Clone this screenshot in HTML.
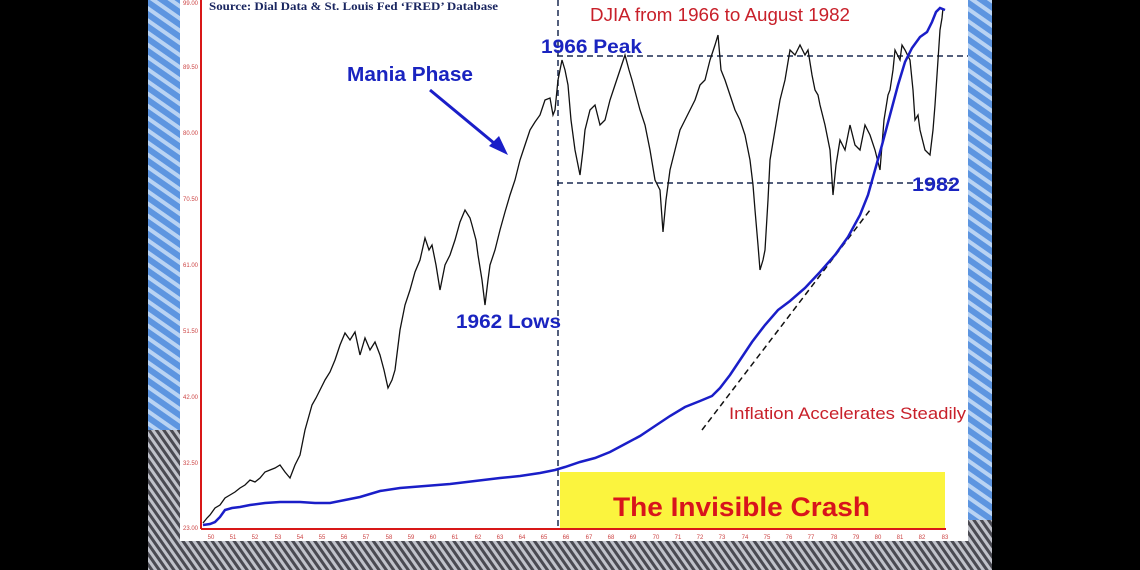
<!DOCTYPE html>
<html><head><meta charset="utf-8"><style>
html,body{margin:0;padding:0;width:1140px;height:570px;overflow:hidden;background:#000}
svg{display:block}
</style></head><body>
<svg width="1140" height="570" viewBox="0 0 1140 570" xmlns="http://www.w3.org/2000/svg">
<defs>
<pattern id="bl" width="10" height="10" patternUnits="userSpaceOnUse" patternTransform="rotate(35)">
<rect width="10" height="10" fill="#5d95e0"/><rect width="10" height="4" fill="#b9d3f3"/>
</pattern>
<pattern id="gr" width="6" height="6" patternUnits="userSpaceOnUse" patternTransform="rotate(55)">
<rect width="6" height="6" fill="#4a4a52"/><rect width="6" height="3" fill="#c0c2ca"/>
</pattern>
</defs>
<rect x="148" y="0" width="844" height="570" fill="url(#gr)"/>
<rect x="148" y="0" width="32" height="430" fill="url(#bl)"/>
<rect x="966" y="0" width="26" height="520" fill="url(#bl)"/>
<rect x="180" y="0" width="788" height="541" fill="#fff"/>
<rect x="560" y="472" width="385" height="56" fill="#fbf43e"/>
<text x="613" y="516" textLength="257" lengthAdjust="spacingAndGlyphs" font-family="Liberation Sans,sans-serif" font-weight="bold" font-size="27" fill="#d8141c">The Invisible Crash</text>
<line x1="201" y1="0" x2="201" y2="529" stroke="#d81818" stroke-width="2"/>
<line x1="201" y1="529" x2="946" y2="529" stroke="#d81818" stroke-width="2"/>
<g font-family="Liberation Sans,sans-serif" font-size="6" fill="#c44" text-anchor="end">
<text x="198" y="5">99.00</text><text x="198" y="69">89.50</text><text x="198" y="135">80.00</text><text x="198" y="201">70.50</text><text x="198" y="267">61.00</text><text x="198" y="333">51.50</text><text x="198" y="399">42.00</text><text x="198" y="465">32.50</text><text x="198" y="530">23.00</text>
</g>
<g font-family="Liberation Sans,sans-serif" font-size="6" fill="#c44" text-anchor="middle">
<text x="211" y="539">50</text><text x="233" y="539">51</text><text x="255" y="539">52</text><text x="278" y="539">53</text><text x="300" y="539">54</text><text x="322" y="539">55</text><text x="344" y="539">56</text><text x="366" y="539">57</text><text x="389" y="539">58</text><text x="411" y="539">59</text><text x="433" y="539">60</text><text x="455" y="539">61</text><text x="478" y="539">62</text><text x="500" y="539">63</text><text x="522" y="539">64</text><text x="544" y="539">65</text><text x="566" y="539">66</text><text x="589" y="539">67</text><text x="611" y="539">68</text><text x="633" y="539">69</text><text x="656" y="539">70</text><text x="678" y="539">71</text><text x="700" y="539">72</text><text x="722" y="539">73</text><text x="745" y="539">74</text><text x="767" y="539">75</text><text x="789" y="539">76</text><text x="811" y="539">77</text><text x="834" y="539">78</text><text x="856" y="539">79</text><text x="878" y="539">80</text><text x="900" y="539">81</text><text x="922" y="539">82</text><text x="945" y="539">83</text>
</g>
<g stroke="#1a2a50" stroke-width="1.5" stroke-dasharray="6,4" fill="none">
<line x1="558" y1="0" x2="558" y2="526"/>
<line x1="557" y1="56" x2="968" y2="56"/>
<line x1="557" y1="183" x2="958" y2="183"/>
<line x1="702" y1="430" x2="870" y2="210" stroke="#111"/>
</g>
<polyline fill="none" stroke="#111" stroke-width="1.3" points="203,523 207,518 210,515 215,508 220,505 225,498 230,495 235,492 240,488 245,485 250,480 255,482 260,478 265,472 270,470 275,468 280,465 285,472 290,478 295,465 300,455 305,430 312,405 316,398 320,390 325,380 330,372 335,360 340,345 345,333 350,340 355,332 360,355 365,338 370,350 375,342 380,355 384,370 388,388 392,380 395,370 400,330 405,305 410,290 415,272 420,260 425,238 429,250 432,245 436,265 440,290 445,265 450,255 455,240 460,222 465,210 470,218 472,225 476,240 478,255 482,280 485,305 488,280 490,265 495,250 500,230 505,212 510,195 515,180 520,160 525,145 530,130 535,122 540,115 545,100 550,98 553,115 555,110 558,80 562,60 565,70 568,85 571,120 575,150 578,165 580,175 583,150 585,130 590,110 595,105 600,125 605,120 610,100 615,85 620,70 625,55 629,70 632,80 636,95 640,110 645,125 650,150 655,180 660,190 663,232 666,200 670,170 675,150 680,130 685,120 690,110 695,100 700,85 705,80 710,60 715,45 718,35 721,70 725,80 730,95 735,110 740,120 745,135 750,160 753,185 755,210 758,245 760,270 763,260 765,250 768,200 770,160 775,130 780,100 785,80 790,50 795,55 800,45 805,55 808,50 812,75 815,90 818,95 820,105 825,125 830,150 833,195 836,165 840,140 845,150 850,125 855,145 860,150 865,125 870,135 875,150 880,170 884,120 888,95 890,90 893,70 895,50 900,60 902,45 905,50 910,60 913,90 915,120 918,115 920,130 925,150 930,155 933,130 935,105 938,60 940,30 942,18 943,8"/>
<polyline fill="none" stroke="#1a1ec8" stroke-width="2.5" points="203,525 210,524 215,522 220,517 225,510 232,508 240,507 250,505 265,503 280,502 300,502 315,503 330,503 345,500 360,497 380,491 400,488 425,486 450,484 475,481 500,478 520,476 540,473 555,470 565,467 580,462 595,458 610,452 625,444 640,436 655,426 670,416 685,407 700,401 712,396 720,388 730,375 740,360 752,342 765,325 778,310 790,301 805,288 820,272 835,255 848,237 860,215 868,195 875,170 882,145 890,115 898,85 905,62 912,48 920,37 927,32 932,22 936,12 940,8 945,10"/>
<line x1="430" y1="90" x2="500" y2="148" stroke="#1a1ec8" stroke-width="3"/>
<polygon points="508,155 489,146 499,136" fill="#1a1ec8"/>
<text x="209" y="10" textLength="289" lengthAdjust="spacingAndGlyphs" font-family="Liberation Serif,serif" font-weight="bold" font-size="12" fill="#1a2660">Source: Dial Data &amp; St. Louis Fed ‘FRED’ Database</text>
<text x="590" y="21" textLength="260" lengthAdjust="spacingAndGlyphs" font-family="Liberation Sans,sans-serif" font-size="18" fill="#c8202a">DJIA from 1966 to August 1982</text>
<g font-family="Liberation Sans,sans-serif" font-weight="bold" fill="#1a24c0" lengthAdjust="spacingAndGlyphs">
<text x="347" y="81" font-size="20" textLength="126" lengthAdjust="spacingAndGlyphs">Mania Phase</text>
<text x="541" y="53" font-size="19" textLength="101" lengthAdjust="spacingAndGlyphs">1966 Peak</text>
<text x="456" y="328" font-size="19" textLength="105" lengthAdjust="spacingAndGlyphs">1962 Lows</text>
<text x="912" y="191" font-size="19" textLength="48" lengthAdjust="spacingAndGlyphs">1982</text>
</g>
<text x="729" y="419" textLength="237" lengthAdjust="spacingAndGlyphs" font-family="Liberation Sans,sans-serif" font-size="17" fill="#c8202a">Inflation Accelerates  Steadily</text>
</svg>
</body></html>
